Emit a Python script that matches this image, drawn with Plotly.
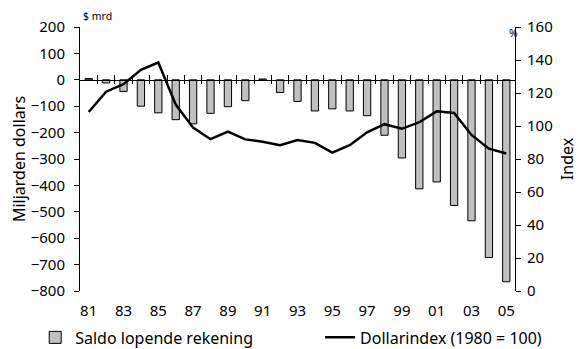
import plotly.graph_objects as go

years = list(range(1981, 2006))
saldo = [5, -12, -44, -100, -125, -151, -167, -127, -102, -79, 3, -48, -82,
         -118, -110, -118, -136, -210, -296, -413, -387, -476, -534, -673, -765]
dollarindex = [108.5, 120.8, 125.3, 134, 138.5, 113, 99, 92, 96.6, 91.9, 90.5,
               88.4, 91.5, 89.8, 83.9, 88.4, 96.2, 101.1, 98.3, 102.3, 108.9,
               107.9, 94.6, 86.3, 83.3]
tick_years = list(range(1981, 2006, 2))
tick_text = ["81", "83", "85", "87", "89", "91", "93", "95", "97", "99", "01", "03", "05"]
left_ticks = list(range(-800, 201, 100))
right_ticks = list(range(0, 161, 20))

FONT = "Noto Sans"
TICK = 15
y_min, y_max = -800, 200
zero_pos = (0 - y_min) / (y_max - y_min)
boundaries = [y + 0.5 for y in years[:-1]]

fig = go.Figure()
fig.add_trace(go.Bar(
    x=years, y=saldo, name="Saldo lopende rekening",
    marker=dict(color="#c0c0c0", line=dict(color="black", width=1)),
    width=0.42, yaxis="y", xaxis="x", legend="legend"))
fig.add_trace(go.Scatter(
    x=years, y=dollarindex, name="Dollarindex (1980 = 100)", mode="lines",
    line=dict(color="black", width=2.5), yaxis="y2", xaxis="x", legend="legend2"))
# invisible carriers so the zero-crossing tick axes get drawn
for ax in ("x2", "x3"):
    fig.add_trace(go.Scatter(x=years, y=saldo, xaxis=ax, yaxis="y", mode="markers",
                             marker=dict(opacity=0), showlegend=False,
                             hoverinfo="skip"))

xr = [1980.5, 2005.5]
fig.update_layout(
    width=574, height=341,
    margin=dict(l=72, r=67, t=19, b=58, autoexpand=False),
    paper_bgcolor="white", plot_bgcolor="white",
    font=dict(family=FONT, size=TICK, color="black"),
    showlegend=True,
    legend=dict(orientation="h", x=-0.103, y=-0.176, xanchor="left", yanchor="middle",
                font=dict(size=16), bgcolor="rgba(0,0,0,0)"),
    legend2=dict(orientation="h", x=0.552, y=-0.176, xanchor="left", yanchor="middle",
                 font=dict(size=16), bgcolor="rgba(0,0,0,0)"),
    xaxis=dict(range=xr, tickmode="array", tickvals=tick_years, ticktext=tick_text,
               showline=False, showgrid=False, zeroline=False, ticks="",
               ticklabelstandoff=9, tickfont=dict(size=TICK)),
    xaxis2=dict(range=xr, overlaying="x", anchor="free", position=zero_pos,
                side="top", showline=True, linecolor="black", linewidth=1,
                tickmode="array", tickvals=boundaries, ticks="outside",
                ticklen=5, tickcolor="black", showticklabels=False,
                showgrid=False, zeroline=False),
    xaxis3=dict(range=xr, overlaying="x", anchor="free", position=zero_pos,
                side="bottom", showline=False,
                tickmode="array", tickvals=boundaries, ticks="outside",
                ticklen=3, tickcolor="black", showticklabels=False,
                showgrid=False, zeroline=False),
    yaxis=dict(range=[y_min, y_max], tickmode="array", tickvals=left_ticks,
               showline=True, linecolor="black", linewidth=1, ticks="outside",
               ticklen=5, tickcolor="black", showgrid=False, zeroline=False,
               ticklabelstandoff=6, tickfont=dict(size=TICK),
               title=dict(text="Miljarden dollars", font=dict(size=16), standoff=10)),
    yaxis2=dict(range=[0, 160], tickmode="array", tickvals=right_ticks,
                overlaying="y", side="right", anchor="x",
                showline=True, linecolor="black", linewidth=1, ticks="outside",
                ticklen=5, tickcolor="black", showgrid=False, zeroline=False,
                ticklabelstandoff=3, tickfont=dict(size=TICK),
                title=dict(text="Index", font=dict(size=16), standoff=10)),
    annotations=[
        dict(text="$ mrd", xref="paper", yref="paper", x=0.0, y=1.0,
             xanchor="left", yanchor="middle", showarrow=False, yshift=11,
             xshift=1, font=dict(size=10.5)),
        dict(text="%", xref="paper", yref="paper", x=1.0, y=1.0,
             xanchor="center", yanchor="middle", showarrow=False, yshift=-6,
             xshift=-2, font=dict(size=10.5)),
    ],
)
fig.write_html("out.html")
